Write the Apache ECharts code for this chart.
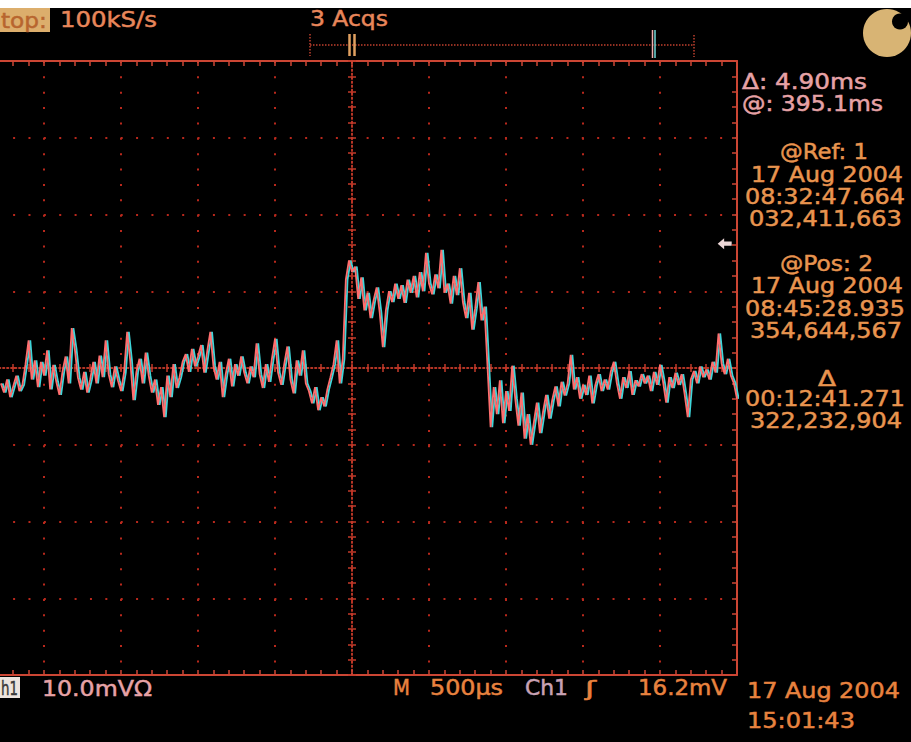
<!DOCTYPE html>
<html><head><meta charset="utf-8">
<script src="https://cdn.jsdelivr.net/npm/echarts@6/dist/echarts.min.js"></script>
<style>html,body{margin:0;padding:0;background:#000;}#c{width:911px;height:742px;}</style>
</head><body><div id="c"></div>
<script>
const sampleStartMs = -2.28;   // time of first visible sample (ms, 0 = screen centre)
const sampleStepMs = 0.02;     // sample spacing (ms)
const ch1mV = [
 -2.0,-3.2,-1.5,-3.8,-2.4,-1.0,-3.0,-2.2,0.5,3.6,
 -1.5,1.0,-2.5,0.8,-1.0,2.3,-2.8,0.4,-1.8,-3.5,
 -0.5,1.5,-2.0,5.2,2.5,-1.2,-2.8,-0.5,-3.2,-1.5,
 0.8,-2.0,1.6,-1.2,3.6,-0.8,-2.5,0.2,-1.6,-3.0,
 -0.6,4.7,1.0,-4.2,-0.5,1.2,-2.0,2.0,-1.0,-3.2,
 -1.5,-4.8,-2.5,-6.4,-1.0,-3.8,0.5,-2.6,-1.2,0.8,
 1.8,-0.5,2.5,0.2,1.5,3.0,-0.6,2.2,4.7,0.3,
 -1.5,0.8,-3.8,-0.8,1.2,-2.4,0.5,-1.0,1.5,-0.6,
 -2.0,0.2,-1.2,3.2,-0.8,-2.6,0.5,-1.8,1.2,3.8,
 -0.6,-2.2,0.5,2.8,-1.5,-3.3,1.0,-1.0,2.3,-2.0,
 -3.0,-4.6,-2.5,-5.5,-3.8,-5.0,-2.8,-1.2,0.5,3.6,
 -2.0,1.2,11.5,14.0,12.5,13.2,9.0,11.8,7.5,9.8,
 6.5,8.8,10.5,7.2,2.7,7.5,10.0,8.6,11.0,9.0,
 10.8,8.5,11.5,9.8,12.0,9.2,12.5,10.0,15.0,11.0,
 9.6,12.2,10.4,15.4,9.8,11.0,8.4,12.0,9.5,13.0,
 8.6,6.5,9.8,5.0,7.8,11.2,6.2,8.0,0.2,-7.7,
 -2.5,-6.0,-1.6,-7.2,-3.0,-5.6,0.3,-4.0,-7.5,-3.2,
 -9.2,-6.0,-10.0,-7.2,-4.5,-8.5,-5.8,-3.5,-6.6,-4.2,
 -2.4,-5.0,-1.8,-3.6,-2.0,1.7,-2.8,-1.2,-4.0,-2.2,
 -3.5,-1.0,-4.6,-2.2,-0.8,-3.0,-1.5,-2.8,-0.5,0.8,
 -2.0,-4.0,-1.2,-2.6,-0.4,-3.5,-1.6,-2.4,-0.8,-2.0,
 -1.0,-3.0,-0.5,-2.2,0.4,-1.8,-4.5,-1.2,-2.6,-0.6,
 -2.2,-0.8,-3.4,-6.4,-1.5,-0.4,-2.0,0.2,-1.2,-0.2,
 -1.5,0.8,-0.6,4.5,0.6,-0.8,1.2,-1.0,-2.0,-4.0
];
const triggerLevelMv = 16.2;
const timeDivMs = 0.5, timeDivs = 10;   // M 500µs
const voltDivMv = 10, voltDivs = 8;     // 10.0mV/div

// readout texts (as visible on the screen)
const topTexts = ['top:', '100kS/s', '3 Acqs'];
const cursorTexts = ['Δ: 4.90ms', '@: 395.1ms'];
const refTexts = ['@Ref: 1', '17 Aug 2004', '08:32:47.664', '032,411,663'];
const posTexts = ['@Pos: 2', '17 Aug 2004', '08:45:28.935', '354,644,567'];
const deltaTexts = ['Δ', '00:12:41.271', '322,232,904'];
const bottomTexts = ['h1', '10.0mVΩ', 'M', '500µs', 'Ch1', 'ʃ', '16.2mV'];
const dateTexts = ['17 Aug 2004', '15:01:43'];

// ---- build ----
const tMin = -timeDivMs * timeDivs / 2, tMax = timeDivMs * timeDivs / 2;
const vMin = -voltDivMv * voltDivs / 2, vMax = voltDivMv * voltDivs / 2;
const seriesData = ch1mV.map((v, i) => [+(sampleStartMs + i * sampleStepMs).toFixed(3), v]);

const gridLeft = -33, gridRight = 911 - 737, gridTop = 61, gridBottom = 742 - 675;
const gridW = 911 - gridLeft - gridRight, gridH = 742 - gridTop - gridBottom;
const fringePx = 1.7;
const fringeShift = fringePx * (tMax - tMin) / gridW;

const border = '#cc4634', dotRed = '#b8281c', centreRed = '#c23a2a';
const FONT = '"DejaVu Sans", Verdana, sans-serif';
const mctx = document.createElement('canvas').getContext('2d');
function txt(s, x1, x2, cy, color, size, align) {
  const f = size + 'px ' + FONT;
  mctx.font = f;
  const w = mctx.measureText(s).width;
  const sx = (x2 - x1) / w;
  let ax = x1, al = 'left';
  if (align === 'right') { ax = x2; al = 'right'; }
  return { type: 'text', x: ax, y: cy, scaleX: sx, z: 100, silent: true,
    style: { text: s, fill: color, stroke: color, lineWidth: 0.5, font: f, textAlign: al, textVerticalAlign: 'middle', align: al, verticalAlign: 'middle' } };
}
function ln(x1, y1, x2, y2, color, w, dash) {
  return { type: 'line', z: 90, silent: true, shape: { x1, y1, x2, y2 },
    style: { stroke: color, lineWidth: w, lineDash: dash || null } };
}

const pink = '#e6a2a6', orangeR = '#e8944f', orangeT = '#e8865a', orangeB = '#e8823f';

const graphics = [
  // status box
  { type: 'rect', z: 95, silent: true, shape: { x: 0, y: 8, width: 50, height: 24 }, style: { fill: '#dcae6c' } },
  txt(topTexts[0], 1, 47, 20, '#b8652e', 22),
  txt(topTexts[1], 60, 157, 19, orangeT, 22),
  txt(topTexts[2], 310, 388, 18, orangeT, 22),
  // record view bar
  ln(310, 45, 694, 45, '#c0402e', 1.5, [1.5, 1.5]),
  ln(310, 34, 310, 56, '#c0402e', 1.5, [1.5, 1.5]),
  ln(694, 35, 694, 57, '#c0402e', 1.5, [1.5, 1.5]),
  ln(349.5, 34, 349.5, 56, '#e0a060', 2.5),
  ln(354.5, 34, 354.5, 56, '#e0a060', 2.5),
  ln(652.5, 30, 652.5, 58, '#f0b0b0', 1.5),
  ln(655, 30, 655, 58, '#70d8d8', 1.5),
  // logo
  { type: 'circle', z: 95, silent: true, shape: { cx: 887, cy: 33, r: 24 }, style: { fill: '#d8b474' } },
  { type: 'circle', z: 96, silent: true, shape: { cx: 900, cy: 21.5, r: 8 }, style: { fill: '#000' } },
  { type: 'rect', z: 110, silent: true, shape: { x: 0, y: 0, width: 911, height: 8 }, style: { fill: '#fff' } },
  // right panel
  txt(cursorTexts[0], 742, 867, 82, pink, 21),
  txt(cursorTexts[1], 742, 883, 103, pink, 21),
  txt(refTexts[0], 780, 868, 152, orangeR, 21),
  txt(refTexts[1], 751, 903, 175, orangeR, 21),
  txt(refTexts[2], 745, 905, 197, orangeR, 21),
  txt(refTexts[3], 749, 902, 219, orangeR, 21),
  txt(posTexts[0], 780, 873, 263, orangeR, 21),
  txt(posTexts[1], 751, 903, 286, orangeR, 21),
  txt(posTexts[2], 745, 905, 309, orangeR, 21),
  txt(posTexts[3], 750, 902, 331, orangeR, 21),
  txt(deltaTexts[0], 818, 836, 379, orangeR, 21),
  txt(deltaTexts[1], 745, 905, 399, orangeR, 21),
  txt(deltaTexts[2], 750, 902, 421, orangeR, 21),
  // bottom bar
  { type: 'rect', z: 95, silent: true, shape: { x: 0, y: 677, width: 20, height: 21 }, style: { fill: '#ece4de' } },
  txt(bottomTexts[0], 1, 18, 688, '#3a3a3a', 20),
  txt(bottomTexts[1], 42, 152, 688, pink, 21),
  txt(bottomTexts[2], 393, 410, 688, orangeB, 21),
  txt(bottomTexts[3], 430, 503, 688, orangeB, 21),
  txt(bottomTexts[4], 525, 568, 688, '#c8a2b4', 21),
  txt(bottomTexts[5], 585, 596, 688, orangeB, 21),
  txt(bottomTexts[6], 638, 727, 688, orangeB, 21),
  txt(dateTexts[0], 747, 900, 691, orangeB, 21),
  txt(dateTexts[1], 747, 855, 721, orangeB, 21)
];

function borderAxis(pos) {
  const isX = pos === 'top' || pos === 'bottom';
  return {
    type: 'value', position: pos, min: isX ? tMin : vMin, max: isX ? tMax : vMax,
    interval: isX ? timeDivMs : voltDivMv,
    axisLine: { show: true, onZero: false, lineStyle: { color: border, width: 2 } },
    axisTick: { show: true, inside: true, length: 5, lineStyle: { color: border, width: 1.5 } },
    minorTick: { show: true, splitNumber: 5, length: 5, lineStyle: { color: border, width: 1.5 } },
    axisLabel: { show: false },
    splitLine: { show: false },
    minorSplitLine: { show: false }
  };
}
function centreAxis(pos, offset, inside, isX) {
  return {
    type: 'value', position: pos, offset: offset,
    min: isX ? tMin : vMin, max: isX ? tMax : vMax, interval: isX ? timeDivMs : voltDivMv,
    axisLine: { show: true, onZero: false, lineStyle: { color: centreRed, width: 1.5, type: [1.5, 2.5] } },
    axisTick: { show: true, inside: inside, length: 4, lineStyle: { color: centreRed, width: 1.5 } },
    minorTick: { show: true, splitNumber: 5, length: 4, lineStyle: { color: centreRed, width: 1.5 } },
    axisLabel: { show: false }, splitLine: { show: false }
  };
}
const dotted = { show: true, lineStyle: { color: dotRed, width: 2, type: [2, 13.37] } };

const xMain = borderAxis('bottom'); xMain.splitLine = dotted;
const yMain = borderAxis('right'); yMain.splitLine = dotted;

const option = {
  backgroundColor: '#000',
  animation: false,
  grid: { left: gridLeft, right: gridRight, top: gridTop, bottom: gridBottom, containLabel: false, outerBoundsMode: 'none', show: false },
  xAxis: [
    xMain,
    borderAxis('top'),
    centreAxis('bottom', -gridH / 2, true, true),
    centreAxis('bottom', -gridH / 2, false, true),
    { type: 'value', show: false, min: tMin - fringeShift, max: tMax - fringeShift }
  ],
  yAxis: [
    yMain,
    centreAxis('left', -gridW / 2, true, false),
    centreAxis('left', -gridW / 2, false, false)
  ],
  series: [
    { type: 'line', xAxisIndex: 4, yAxisIndex: 0, data: seriesData, showSymbol: false, symbol: 'none',
      lineStyle: { color: '#3ed6da', width: 1.8 }, z: 3, silent: true },
    { type: 'line', xAxisIndex: 0, yAxisIndex: 0, data: seriesData, showSymbol: false, symbol: 'none',
      lineStyle: { color: '#ff6e6e', width: 1.8 }, z: 4, silent: true,
      markPoint: { silent: true, symbol: 'path://M0,5 L6,0 L6,3 L13,3 L13,7 L6,7 L6,10 Z', symbolSize: [14, 11],
        itemStyle: { color: '#ecd6d6' }, label: { show: false },
        data: [{ coord: [tMax - 0.08, triggerLevelMv] }] } }
  ],
  graphic: { elements: graphics }
};
const chart = echarts.init(document.getElementById('c'), null, { renderer: 'svg' });
chart.setOption(option);
</script></body></html>
